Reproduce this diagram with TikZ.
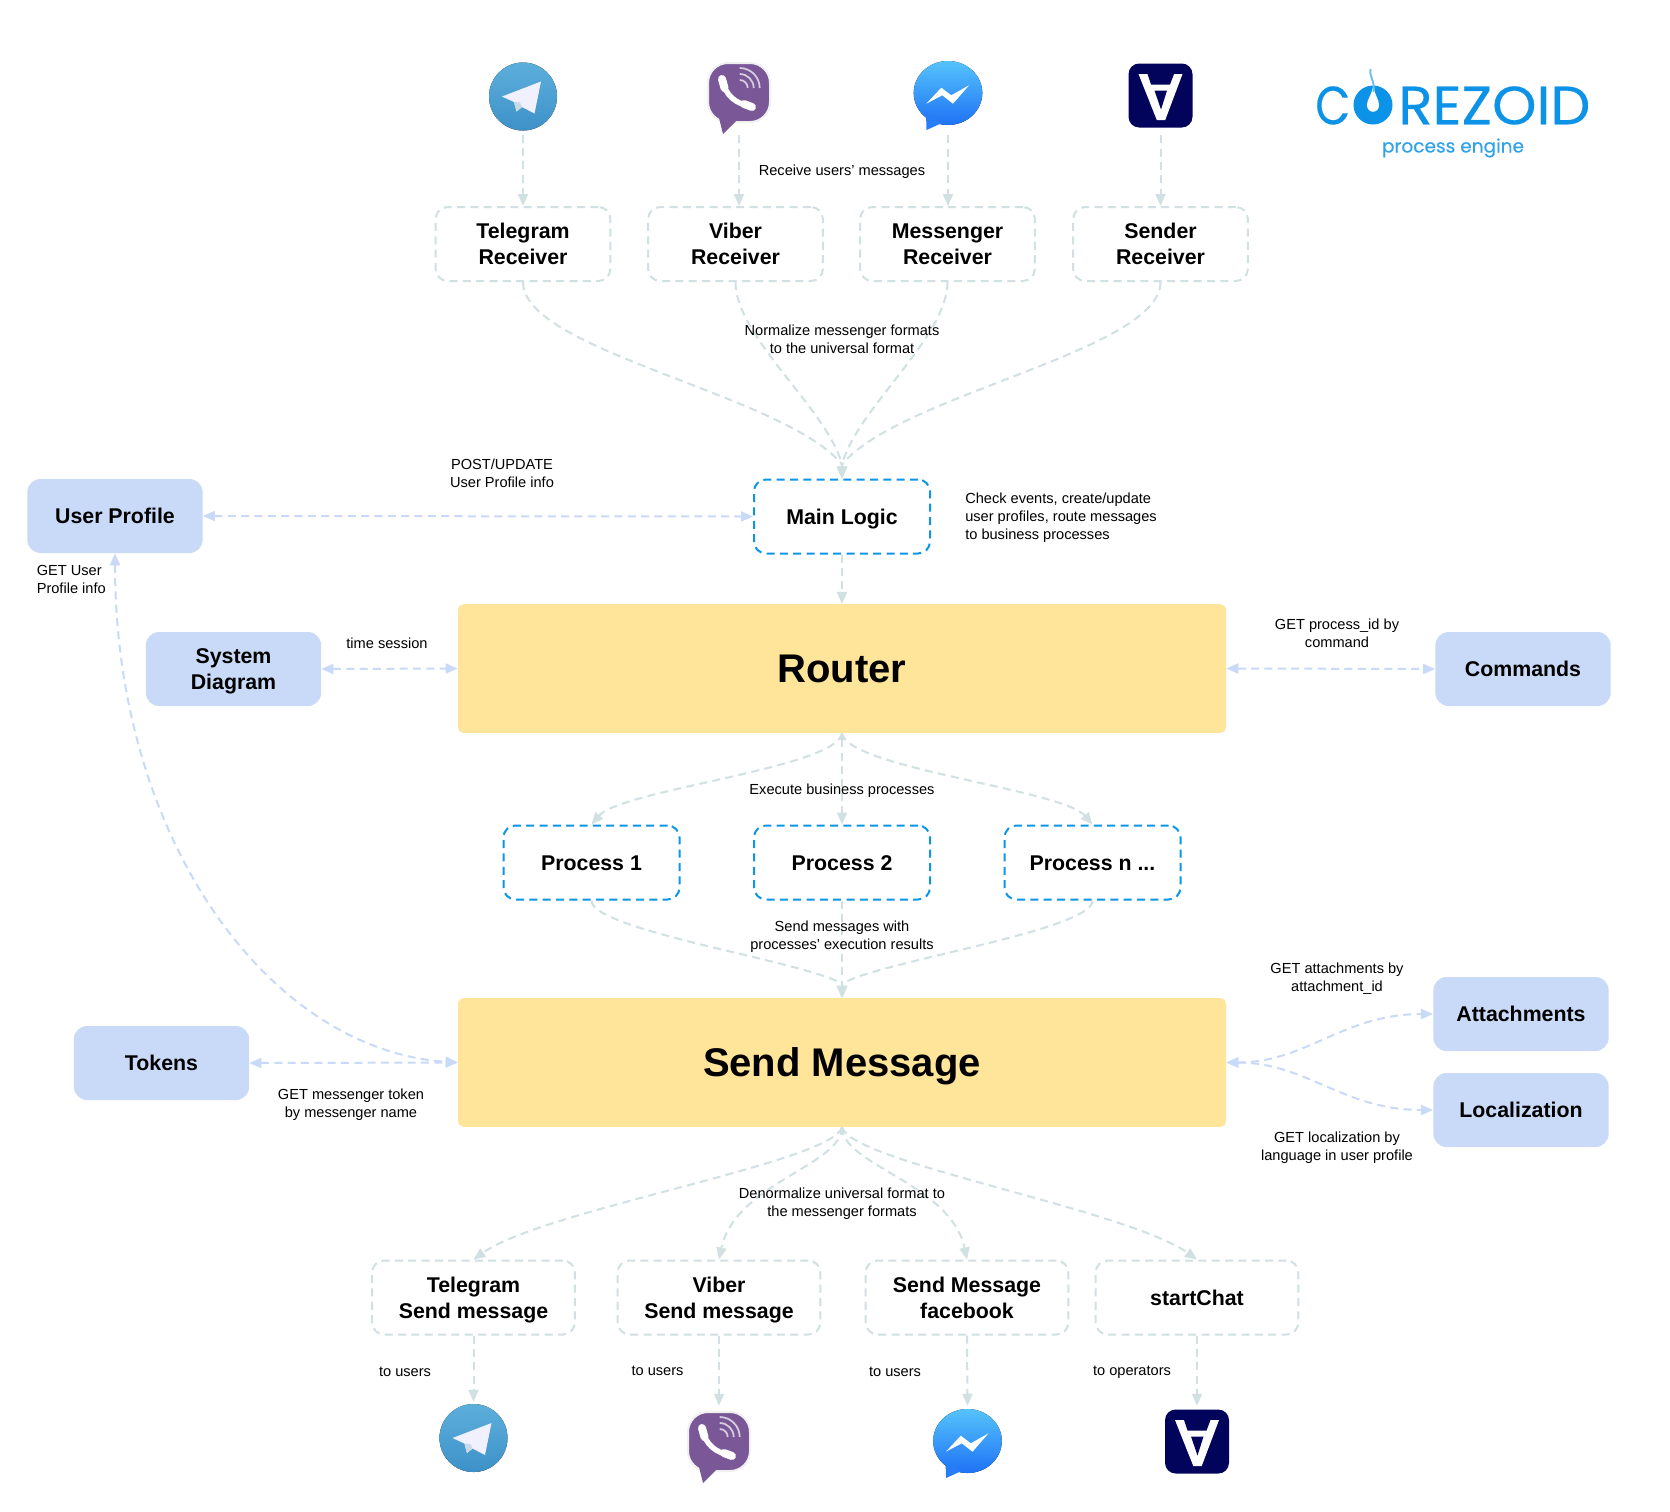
\documentclass[tikz,border=0pt]{standalone}
\usepackage{fontspec}
\usepackage{graphicx}
\setmainfont{Liberation Sans}
\newfontfamily\logofont[FakeBold=0.35]{Poppins}
\usetikzlibrary{arrows.meta}
\definecolor{cgrey}{HTML}{D0E0E3}
\definecolor{cblue}{HTML}{C9DAF8}
\definecolor{cyell}{HTML}{FFE599}
\definecolor{cdash}{HTML}{0C96E8}
\definecolor{clogo}{HTML}{0C92E6}
\definecolor{cnavy}{HTML}{02045C}
\definecolor{cpurp}{HTML}{7A5898}
\definecolor{tgtop}{HTML}{5CAFDB}
\definecolor{tgbot}{HTML}{3E91C8}
\definecolor{mstop}{HTML}{55C3FC}
\definecolor{msbot}{HTML}{1F72F5}
\definecolor{mstail}{HTML}{267DF6}
\definecolor{tgfold}{HTML}{C8DAE6}
\tikzset{
  dashstyle/.style={line width=1.5pt,dash pattern=on 6pt off 4pt},
  labelbold/.style={font=\fontsize{16}{19.5}\selectfont\bfseries,align=center,inner sep=0pt,text depth=0pt,execute at begin node={\rule{0pt}{11.8pt}}},
  greybox/.style={labelbold,draw=cgrey,dashstyle,rounded corners=9pt,minimum width=123pt,minimum height=52.5pt},
  dashbox/.style={labelbold,draw=cdash,dashstyle,rounded corners=9pt,minimum width=132pt,minimum height=55.5pt},
  recvbox/.style={greybox,minimum width=131pt,minimum height=55.5pt},
  sendbox/.style={greybox,minimum width=152pt,minimum height=55.5pt},
  bluebox/.style={labelbold,fill=cblue,rounded corners=10pt,minimum width=131.5pt,minimum height=55.5pt},
  yellbox/.style={fill=cyell,rounded corners=4pt,minimum width=576pt,minimum height=96.5pt,inner sep=0pt,font=\fontsize{30}{36}\selectfont\bfseries,text height=21.5pt,text depth=0pt},
  small/.style={font=\fontsize{10.95}{13.5}\selectfont,align=center,inner sep=0pt},
  smallleft/.style={small,align=left,anchor=west},
  iconbox/.style={inner sep=0pt,minimum width=50pt},
  gconn/.style={draw=cgrey,dashstyle,-{Triangle[length=9pt,width=7.5pt,fill=cgrey]}},
  bconn/.style={draw=cblue,dashstyle,{Triangle[length=9pt,width=7.5pt,fill=cblue]}-{Triangle[length=9pt,width=7.5pt,fill=cblue]}},
  tgpic/.pic={
    \fill[top color=tgtop,bottom color=tgbot] (0,0) circle[radius=34];
    \fill[white!94!blue] (18,-15) -- (-21,0) -- (-9,5.5) -- (-6.5,15) -- (-1,10.5) -- (11.5,17) -- cycle;
    \fill[tgfold] (-9,5.5) -- (-6.5,15) -- (-1,10.5) -- (-3,6) -- cycle;
  },
  vbpic/.pic={
    \path[fill=cpurp,draw=black!6,line width=1.5pt,rounded corners=15pt] (-31,-29) rectangle (31,30);
    \fill[cpurp] (-20,26) -- (-16,42) -- (-3,29) -- cycle;
    \draw[white,line width=4pt,line cap=round] (-16,-11) .. controls (-14,3) and (-3,12) .. (11,14);
    \draw[white,line width=6pt,line cap=round] (-17,-13) -- (-14.5,-4);
    \draw[white,line width=6pt,line cap=round] (5,12) -- (13,15);
    \draw[white,draw opacity=.7,line width=1.3pt] (0.7,-12) arc[start angle=-90,end angle=0,radius=8];
    \draw[white,draw opacity=.7,line width=1.3pt] (0.7,-18) arc[start angle=-90,end angle=0,radius=14];
    \draw[white,draw opacity=.7,line width=1.3pt] (0.7,-24) arc[start angle=-90,end angle=0,radius=20];
  },
  mspic/.pic={
    \fill[top color=mstop,bottom color=msbot] (0,0) ellipse[x radius=34.3,y radius=32];
    \fill[mstail] (-22,20) -- (-21.5,37) -- (-6,30) -- cycle;
    \fill[white] (-21.7,10.7) -- (-6.7,-5.3) -- (3.3,2.3) -- (21,-7.7) -- (5,10.7) -- (-5.7,2.3) -- cycle;
  },
  snpic/.pic={
    \fill[cnavy,rounded corners=8pt] (-32,-32) rectangle (32,32);
    \fill[white] (-22,-21.5) -- (22,-21.5) -- (4.7,24.5) -- (-3.7,24.5) -- cycle;
    \fill[cnavy] (-13,-21.5) -- (13.5,-21.5) -- (9.5,-11) -- (-9.5,-11) -- cycle;
    \fill[cnavy] (-6,-5) -- (6.5,-5) -- (0.5,14) -- cycle;
  },
}
\begin{document}
\begin{tikzpicture}[x=0.75pt,y=-0.75pt]
\useasboundingbox (0,0) rectangle (1670,1511);
\fill[white] (0,0) rectangle (1670,1511);

% nodes: top row
\node[recvbox] (rtg) at (523,244) {Telegram\\Receiver};
\node[recvbox] (rvb) at (735.5,244) {Viber\\Receiver};
\node[recvbox] (rms) at (947.5,244) {Messenger\\Receiver};
\node[recvbox] (rsn) at (1160.5,244) {Sender\\Receiver};
% icons, top
\node[iconbox,minimum height=57pt] (itg) at (523,96.5) {};
\node[iconbox,minimum height=64.5pt] (ivb) at (739,92) {};
\node[iconbox,minimum height=63pt] (ims) at (948,93) {};
\node[iconbox,minimum height=59.25pt] (isn) at (1160.5,95.5) {};
\pic at (itg.center) {tgpic};
\pic at (ivb.center) {vbpic};
\pic at (ims.center) {mspic};
\pic at (isn.center) {snpic};

\node[dashbox] (main) at (842,516.5) {Main Logic};
\node[yellbox] (router) at (842,668.5) {Router};
\node[bluebox] (upr) at (115,516) {User Profile};
\node[bluebox] (sysd) at (233.5,669) {System\\Diagram};
\node[bluebox] (cmds) at (1523,669) {Commands};
\node[dashbox] (p1) at (591.5,862.5) {Process 1};
\node[dashbox] (p2) at (842,862.5) {Process 2};
\node[dashbox] (pn) at (1092.5,862.5) {Process n ...};
\node[yellbox] (send) at (842,1062.5) {Send Message};
\node[bluebox] (tok) at (161.5,1063) {Tokens};
\node[bluebox] (attm) at (1521,1014) {Attachments};
\node[bluebox] (locz) at (1521,1110) {Localization};
\node[sendbox] (stg) at (473.5,1297.5) {Telegram\\Send message};
\node[sendbox] (svb) at (719,1297.5) {Viber\\Send message};
\node[sendbox] (sfb) at (967,1297.5) {Send Message\\facebook};
\node[sendbox] (sst) at (1197,1297.5) {startChat};
% icons, bottom
\node[iconbox,minimum height=54pt] (jtg) at (473.5,1438) {};
\node[iconbox,minimum height=52.5pt] (jvb) at (719,1441) {};
\node[iconbox,minimum height=52.5pt] (jms) at (967.5,1441) {};
\node[iconbox,minimum height=53.25pt] (jsn) at (1197,1441.5) {};
\pic at (jtg.center) {tgpic};
\pic at (jvb.center) {vbpic};
\pic at (jms.center) {mspic};
\pic at (jsn.center) {snpic};

% connectors
\draw[gconn] (itg.south) -- (itg.south |- rtg.north);
\draw[gconn] (ivb.south) -- (ivb.south |- rvb.north);
\draw[gconn] (ims.south) -- (ims.south |- rms.north);
\draw[gconn] (isn.south) -- (isn.south |- rsn.north);
\draw[gconn] (rtg.south) .. controls +(0,69) and +(-57,-70) .. ([yshift=10.5pt]main.north) -- (main.north);
\draw[gconn] (rvb.south) .. controls +(0,55) and +(-15,-56) .. ([yshift=10.5pt]main.north) -- (main.north);
\draw[gconn] (rms.south) .. controls +(0,55) and +(15,-56) .. ([yshift=10.5pt]main.north) -- (main.north);
\draw[gconn] (rsn.south) .. controls +(0,69) and +(57,-70) .. ([yshift=10.5pt]main.north) -- (main.north);
\draw[gconn] (main.south) -- (router.north);
\draw[gconn] (router.south) .. controls +(-5,35) and +(30,-35) .. (p1.north);
\draw[gconn,{Triangle[length=5pt,width=4pt,fill=cgrey]}-{Triangle[length=9pt,width=7.5pt,fill=cgrey]}] (router.south) -- (p2.north);
\draw[gconn] (router.south) .. controls +(5,35) and +(-30,-35) .. (pn.north);
\draw[gconn] (p1.south) .. controls +(0,30) and +(-34,-22) .. ([yshift=10.5pt]send.north) -- (send.north);
\draw[gconn] (p2.south) -- (send.north);
\draw[gconn] (pn.south) .. controls +(0,30) and +(34,-22) .. ([yshift=10.5pt]send.north) -- (send.north);
\draw[gconn] (send.south) .. controls +(-8,35) and +(70,-50) .. (stg.north);
\draw[gconn] (send.south) .. controls +(0,38) and +(16,-76) .. (svb.north);
\draw[gconn] (send.south) .. controls +(0,38) and +(-16,-76) .. (sfb.north);
\draw[gconn] (send.south) .. controls +(8,35) and +(-70,-50) .. (sst.north);
\draw[gconn] (stg.south) -- (jtg.north);
\draw[gconn] (svb.south) -- (jvb.north);
\draw[gconn] (sfb.south) -- (jms.north);
\draw[gconn] (sst.south) -- (jsn.north);
\draw[bconn] (upr.east) -- (main.west);
\draw[bconn] (sysd.east) -- (router.west);
\draw[bconn] (router.east) -- (cmds.west);
\draw[bconn] (tok.east) -- (send.west);
\draw[bconn] (upr.south) .. controls +(0,287) and +(-188,-12) .. (send.west);
\draw[bconn] (send.east) .. controls +(80,0) and +(-90,0) .. (attm.west);
\draw[bconn] (send.east) .. controls +(80,0) and +(-90,0) .. (locz.west);

% labels
\node[small] (l1) at (842,172) {Receive users’ messages};
\node[small] (l2) at (842,339) {Normalize messenger formats\\to the universal format};
\node[small] (l3) at (502,473.5) {POST/UPDATE\\User Profile info};
\node[smallleft] (l4) at (965,518) {Check events, create/update\\user profiles, route messages\\to business processes};
\node[smallleft] (l5) at (36.5,579) {GET User\\Profile info};
\node[small] (l6) at (387,643) {time session};
\node[small] (l7) at (1337,633.5) {GET process\_id by\\command};
\node[small] (l8) at (842,791) {Execute business processes};
\node[small] (l9) at (842,937) {Send messages with\\processes’ execution results};
\node[small] (l10) at (1337,979) {GET attachments by\\attachment\_id};
\node[small] (l11) at (351,1104.5) {GET messenger token\\by messenger name};
\node[small] (l12) at (1337,1148) {GET localization by\\language in user profile};
\node[small] (l13) at (842,1204) {Denormalize universal format to\\the messenger formats};
\node[small] (l14) at (405,1372) {to users};
\node[small] (l15) at (657.5,1371) {to users};
\node[small] (l16) at (895,1372) {to users};
\node[small] (l17) at (1132,1372) {to operators};

% logo
\node[anchor=north west,inner sep=0pt,text=clogo] (logoc) at (1315,86) {\resizebox{26.25pt}{28.5pt}{\logofont C}};
\node[anchor=north west,inner sep=0pt,text=clogo] (logot) at (1398,86) {\resizebox{144pt}{28.5pt}{\logofont REZOID}};
\node[anchor=base,inner sep=0pt,text=clogo!85!white] (logos) at (1453,152.5) {\resizebox{106.5pt}{!}{\logofont process engine}};
\fill[clogo] (1373,105) circle[radius=19.5];
\fill[white] (1373.5,85) .. controls (1371,97) and (1367,99) .. (1367,105) .. controls (1367,114) and (1379,114) .. (1379,105) .. controls (1379,99) and (1375,97) .. (1373.5,85) -- cycle;
\draw[clogo!60!white,line width=1.4pt] (1370.5,69) .. controls (1369,77) and (1375,80) .. (1373.5,92);
\end{tikzpicture}
\end{document}
